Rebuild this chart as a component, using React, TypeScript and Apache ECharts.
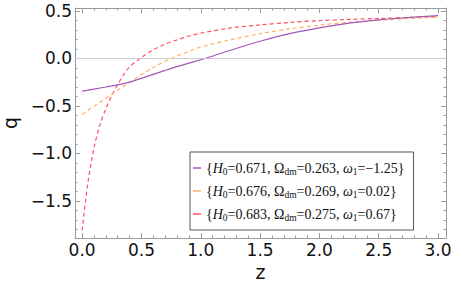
import React, { useEffect, useRef } from "react";
import * as echarts from "echarts";

// redshift samples
const Z = [0, 0.05, 0.1, 0.15, 0.2, 0.25, 0.3, 0.35, 0.4, 0.5, 0.6, 0.7, 0.8, 0.9, 1.0, 1.25, 1.5, 1.75, 2.0, 2.25, 2.5, 2.75, 3.0];
// deceleration parameter q(z)
const Q_PURPLE = [-0.344, -0.334, -0.323, -0.312, -0.301, -0.29, -0.278, -0.265, -0.25, -0.21, -0.168, -0.127, -0.087, -0.05, -0.015, 0.085, 0.18, 0.26, 0.32, 0.37, 0.405, 0.43, 0.45];
const Q_ORANGE = [-0.59, -0.547, -0.505, -0.462, -0.42, -0.378, -0.336, -0.294, -0.253, -0.17, -0.095, -0.03, 0.025, 0.075, 0.12, 0.195, 0.26, 0.31, 0.35, 0.38, 0.4, 0.42, 0.432];
const Q_RED = [-1.81, -1.3, -0.94, -0.7, -0.53, -0.39, -0.275, -0.17, -0.09, 0.01, 0.09, 0.15, 0.195, 0.235, 0.265, 0.32, 0.352, 0.378, 0.397, 0.41, 0.42, 0.43, 0.44];

// legend parameters
const H0 = ["0.671", "0.676", "0.683"];
const OMEGA_DM = ["0.263", "0.269", "0.275"];
const W1 = ["\u22121.25", "0.02", "0.67"];
const COLORS = ["#a557b8", "#ffb05c", "#ff5064"];

// tick labels
const X_TICKS = [0, 0.5, 1.0, 1.5, 2.0, 2.5, 3.0];
const Y_TICKS = [-1.5, -1.0, -0.5, 0.0, 0.5];
const X_MINOR = [0.1, 0.2, 0.3, 0.4, 0.6, 0.7, 0.8, 0.9, 1.1, 1.2, 1.3, 1.4, 1.6, 1.7, 1.8, 1.9, 2.1, 2.2, 2.3, 2.4, 2.6, 2.7, 2.8, 2.9];
const Y_MINOR = [-1.8, -1.7, -1.6, -1.4, -1.3, -1.2, -1.1, -0.9, -0.8, -0.7, -0.6, -0.4, -0.3, -0.2, -0.1, 0.1, 0.2, 0.3, 0.4];

const X_MIN = -0.06;
const X_MAX = 3.067;
const Y_MIN = -1.89;
const Y_MAX = 0.53;

const FRAME = "#9a9a9a";
const LABEL_FONT = "DejaVu Sans";

const fmt = (v: number) => (v < 0 ? "\u2212" + Math.abs(v).toFixed(1) : v.toFixed(1));

export default function App() {
  const ref = useRef<HTMLDivElement>(null);
  useEffect(() => {
    if (!ref.current) return;
    const chart = echarts.init(ref.current, null, { renderer: "svg" });
    const names = H0.map((h, i) => `{H0=${h}, Ωdm=${OMEGA_DM[i]}, ω1=${W1[i]}}`);
    const richName = (i: number) => `{{i|H}{s|0}=${H0[i]}, Ω{s|dm}=${OMEGA_DM[i]}, {i|ω}{s|1}=${W1[i]}}`;

    const xAxisBase = (pos: string, minor: boolean, labels: boolean) => ({
      type: "value",
      position: pos,
      min: X_MIN,
      max: X_MAX,
      axisLine: { show: !minor, onZero: false, lineStyle: { color: FRAME, width: 1 } },
      axisTick: {
        show: true,
        inside: true,
        length: minor ? 2.5 : 5,
        customValues: minor ? X_MINOR : X_TICKS,
        lineStyle: { color: FRAME, width: 1 },
      },
      axisLabel: {
        show: labels,
        customValues: X_TICKS,
        formatter: (v: number) => fmt(v),
        color: "#111",
        fontSize: 17,
        fontFamily: LABEL_FONT,
        margin: 3,
      },
      splitLine: { show: false },
    });
    const yAxisBase = (pos: string, minor: boolean, labels: boolean) => ({
      type: "value",
      position: pos,
      min: Y_MIN,
      max: Y_MAX,
      axisLine: { show: !minor, onZero: false, lineStyle: { color: FRAME, width: 1 } },
      axisTick: {
        show: true,
        inside: true,
        length: minor ? 2.5 : 5,
        customValues: minor ? Y_MINOR : Y_TICKS,
        lineStyle: { color: FRAME, width: 1 },
      },
      axisLabel: {
        show: labels,
        customValues: Y_TICKS,
        formatter: (v: number) => fmt(v),
        color: "#111",
        fontSize: 17,
        fontFamily: LABEL_FONT,
        margin: 3,
      },
      splitLine: { show: false },
    });

    const xMain: any = xAxisBase("bottom", false, true);
    xMain.name = "z";
    xMain.nameLocation = "middle";
    xMain.nameGap = 23;
    xMain.nameTextStyle = { fontSize: 19, fontFamily: LABEL_FONT, color: "#111" };
    const yMain: any = yAxisBase("left", false, true);
    yMain.name = "q";
    yMain.nameLocation = "middle";
    yMain.nameGap = 37;
    yMain.nameTextStyle = { fontSize: 19, fontFamily: LABEL_FONT, color: "#111" };

    const seriesVals = [Q_PURPLE, Q_ORANGE, Q_RED];
    const series: any[] = seriesVals.map((vals, i) => ({
      name: names[i],
      type: "line",
      xAxisIndex: 0,
      yAxisIndex: 0,
      data: Z.map((z, k) => [z, vals[k]]),
      showSymbol: false,
      smooth: 0.3,
      color: COLORS[i],
      lineStyle: {
        color: COLORS[i],
        width: 1.2,
        type: i === 0 ? "solid" : [4, 3],
      },
      z: 3 - i,
    }));
    series[0].markLine = {
      silent: true,
      symbol: ["none", "none"],
      label: { show: false },
      lineStyle: { color: "#cfcfcf", width: 1, type: "solid" },
      data: [{ yAxis: 0 }],
    };

    chart.setOption({
      animation: false,
      backgroundColor: "#fff",
      grid: { left: 75, right: 17, top: 8, bottom: 52, containLabel: false, outerBoundsMode: "none" },
      xAxis: [xMain, xAxisBase("bottom", true, false), xAxisBase("top", false, false), xAxisBase("top", true, false)],
      yAxis: [yMain, yAxisBase("left", true, false), yAxisBase("right", false, false), yAxisBase("right", true, false)],
      legend: {
        show: true,
        orient: "vertical",
        left: 190,
        top: 152,
        padding: [7, 9, 7, 3],
        itemGap: 5,
        itemWidth: 8,
        itemHeight: 1.5,
        icon: "rect",
        selectedMode: false,
        backgroundColor: "#fff",
        borderColor: "#555",
        borderWidth: 1,
        borderRadius: 0,
        data: names,
        formatter: (name: string) => richName(names.indexOf(name)),
        textStyle: {
          fontFamily: "Liberation Serif",
          fontSize: 14,
          lineHeight: 18,
          color: "#111",
          rich: {
            i: { fontFamily: "Liberation Serif", fontStyle: "italic", fontSize: 14, lineHeight: 18, color: "#111" },
            s: { fontFamily: "Liberation Serif", fontSize: 9.5, lineHeight: 18, verticalAlign: "bottom", color: "#111" },
          },
        },
      },
      series,
    });
    return () => chart.dispose();
  }, []);
  return <div ref={ref} style={{ position: "absolute", left: 0, top: 0, width: 463, height: 290 }} />;
}
